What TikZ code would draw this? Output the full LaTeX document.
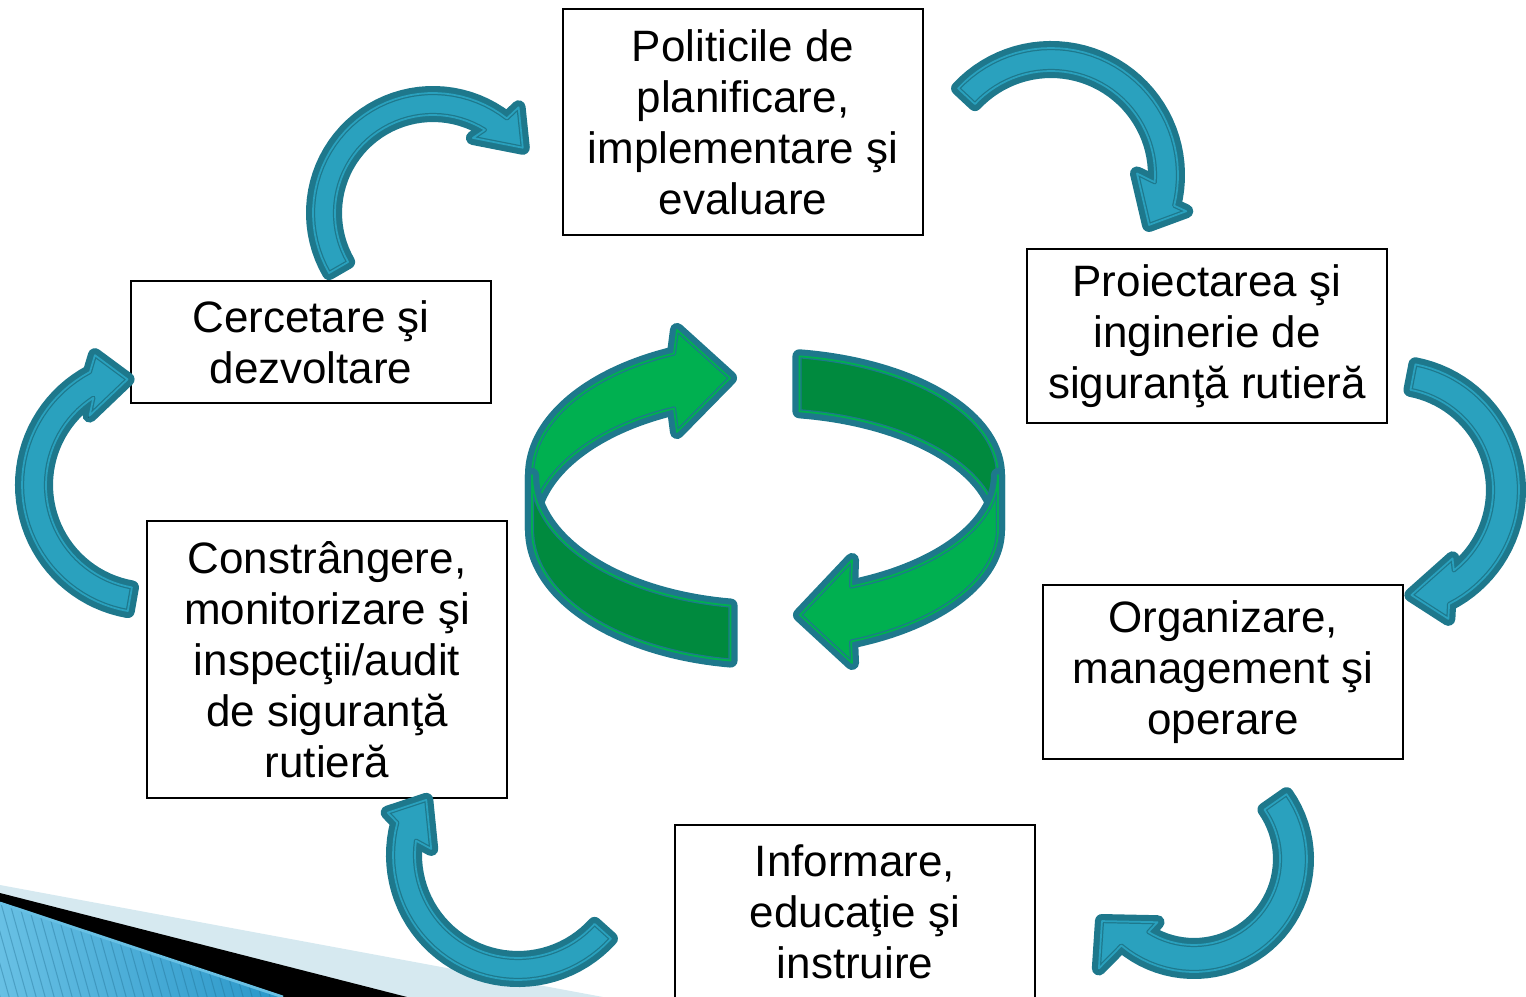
\documentclass[tikz,border=0pt]{standalone}
\usepackage{fontspec}
\setmainfont{Liberation Sans}
\usetikzlibrary{calc}

\definecolor{arrowfill}{RGB}{42,161,190}
\definecolor{arrowline}{RGB}{30,120,140}
\definecolor{ringlight}{RGB}{0,176,80}
\definecolor{ringdark}{RGB}{0,138,62}
\definecolor{paleband}{RGB}{214,233,240}
\definecolor{decolight}{RGB}{104,192,228}
\definecolor{decoblue}{RGB}{40,150,200}

\tikzset{
  stage/.style={draw, line width=0.6pt, fill=white, minimum width=3.6cm, inner sep=0pt,
    align=center, font=\fontsize{12.5}{14.5}\selectfont},
  bandarrow/.style={preaction={draw=arrowline, line width=4pt, line join=round}, fill=arrowfill,
    postaction={draw=arrowline, line width=0.35pt, double=arrowfill, double distance=0.5pt, line join=round}},
  ring/.style={preaction={draw=arrowline, line width=4pt, line join=round}, fill=#1,
    postaction={draw=arrowline, line width=0.35pt, double=ringlight, double distance=0.5pt, line join=round}},
  stripe/.style={draw=decoblue!70!black, line width=0.3pt, opacity=0.35}
}

% centre, inner r, outer r, tail, inner base, outer base, inner barb, tip, outer barb
\newcommand{\blockarc}[9]{%
  \draw[bandarrow, shift={(#1)}] plot[domain=#4:#6, samples=40] (\x:#3) -- (#9) -- (#8) -- (#7)
    -- plot[domain=#5:#4, samples=40] (\x:#2) -- cycle;}

\begin{document}
\begin{tikzpicture}[x=0.01cm, y=-0.01cm]
\useasboundingbox (0,0) rectangle (1526,997);

% corner band
\fill[paleband] (0,885) -- (603,997) -- (0,997) -- cycle;
\fill[black] (0,893) -- (407,997) -- (0,997) -- cycle;
\begin{scope}
\clip (0,903) -- (283,997) -- (0,997) -- cycle;
\shade[left color=decolight, right color=decoblue] (0,900) rectangle (290,997);
\foreach \s in {-4,...,36} \draw[stripe] (\s*9,900) -- ++(28,100);
\end{scope}
\draw[decolight, line width=0.8pt] (0,903) -- (283,997);

\node[stage, minimum height=2.26cm] (politici) at (743,122) {Politicile de\\planificare,\\implementare şi\\evaluare};
\node[stage, minimum height=1.74cm] (proiectare) at (1207,336) {Proiectarea şi\\inginerie de\\siguranţă rutieră};
\node[stage, minimum height=1.74cm] (organizare) at (1223,672) {Organizare,\\management şi\\operare};
\node[stage, minimum height=1.74cm] (informare) at (855,912) {Informare,\\educaţie şi\\instruire};
\node[stage, minimum height=2.77cm] (constrangere) at (327,659.5) {Constrângere,\\monitorizare şi\\inspecţii/audit\\de siguranţă\\rutieră};
\node[stage, minimum height=1.22cm] (cercetare) at (311,342) {Cercetare şi\\dezvoltare};

\blockarc{433,213}{98}{120}{150}{302}{308}{298:85}{324:111}{309:136}
\blockarc{1051,175}{104}{127}{223}{364}{374}{359:86}{387:110}{375:140}
\blockarc{1391,490}{102}{128}{-79}{52}{63}{48:92}{79:107}{66:141}
\blockarc{1194,859}{86}{113}{-35}{122}{130}{120:73}{146:111}{131:145}
\blockarc{518,855}{103}{125}{42}{188}{195}{184:87}{211:107}{198:137}
\blockarc{150,485}{104}{128}{100}{237}{242}{229:92}{258:108}{247:141}

% green ring
\begin{scope}[shift={(765,475)}]
\draw[ring=ringlight] plot[domain=180:247, samples=40] ({233*cos(\x)},{132*sin(\x)}) -- (-88,-145) -- (-35,-97) -- (-88,-43)
  -- plot[domain=247:180, samples=40] ({233*cos(\x)},{55+132*sin(\x)}) -- cycle;
\draw[ring=ringdark] plot[domain=180:98.5, samples=40] ({233*cos(\x)},{132*sin(\x)})
  -- plot[domain=98.5:180, samples=40] ({233*cos(\x)},{55+132*sin(\x)}) -- cycle;
\draw[ring=ringdark] plot[domain=360:278.5, samples=40] ({233*cos(\x)},{120*sin(\x)})
  -- plot[domain=278.5:360, samples=40] ({233*cos(\x)},{55+120*sin(\x)}) -- cycle;
\draw[ring=ringlight] plot[domain=0:68.3, samples=40] ({233*cos(\x)},{120*sin(\x)}) -- (87,85) -- (35,140) -- (87,188)
  -- plot[domain=68.3:0, samples=40] ({233*cos(\x)},{55+120*sin(\x)}) -- cycle;
\end{scope}

\end{tikzpicture}
\end{document}
